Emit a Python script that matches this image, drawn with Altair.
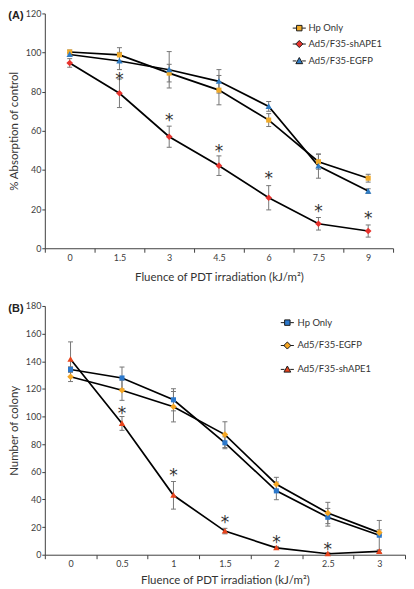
import altair as alt
import pandas as pd

FONT = "Lato"
GRAY = "#767676"
AXC = "#404040"
XTITLE = "Fluence of PDT irradiation (kJ/m²)"

# ---------------- Panel A data ----------------
a_x = ["0", "1.5", "3", "4.5", "6", "7.5", "9"]
a_names = ["Hp Only", "Ad5/F35-shAPE1", "Ad5/F35-EGFP"]
a_hp = [100.3, 98.8, 89.5, 80.8, 65.5, 44.2, 35.8]
a_hp_err = [1.0, 3.7, 4.5, 7.5, 3.3, 3.8, 2.0]
a_sh = [94.7, 79.2, 57.0, 42.2, 25.8, 12.5, 8.8]
a_sh_err = [2.2, 7.3, 5.4, 5.0, 6.2, 3.2, 3.1]
a_eg = [99.0, 95.7, 91.2, 85.3, 72.5, 42.0, 29.2]
a_eg_err = [1.0, 4.4, 9.3, 6.0, 2.5, 6.2, 1.2]
a_star = [None, 88.3, 67.5, 51.7, 38.0, 20.8, 17.5]
a_colors = ["#f0aa28", "#e8322c", "#2f7cc4"]

# ---------------- Panel B data ----------------
b_x = ["0", "0.5", "1", "1.5", "2", "2.5", "3"]
b_names = ["Hp Only", "Ad5/F35-EGFP", "Ad5/F35-shAPE1"]
b_hp = [134.0, 127.9, 112.1, 81.0, 46.2, 27.1, 14.1]
b_hp_err = [2.0, 7.9, 8.0, 4.3, 6.4, 6.4, 10.7]
b_eg = [128.8, 119.0, 107.1, 86.9, 51.0, 30.2, 16.0]
b_eg_err = [3.5, 7.3, 11.0, 9.3, 5.0, 7.7, 2.0]
b_sh = [141.4, 95.0, 43.0, 17.1, 5.0, 0.7, 2.4]
b_sh_err = [12.6, 5.0, 10.0, 2.0, 1.0, 0.8, 1.0]
b_star = [None, 105.2, 60.5, 26.2, 11.7, 7.1, None]
b_colors = ["#2b78cc", "#f5a623", "#e8441c"]

SQ = "M-1,-1H1V1H-1Z"
DI = "M0,-1.3L1.3,0L0,1.3L-1.3,0Z"
TR = "M0,-1.25L1.25,1H-1.25Z"
LN = "M-2.4,0H-1.05M1.05,0H2.4"

a_shapes = [SQ, DI, TR]
b_shapes = [SQ, DI, TR]


def panel(xs, names, vals, errs, colors, shapes, stars, ymax, ystep, ytitle,
          w, h, title, leg_x, leg_y, row_pad, lab_off, x_lab_pad, x_title_pad):
    rows = []
    for name, v, e in zip(names, vals, errs):
        for i, (x, vv, ee) in enumerate(zip(xs, v, e)):
            rows.append(dict(x=x, i=i, series=name, y=vv, lo=vv - ee, hi=vv + ee))
    df = pd.DataFrame(rows)
    sdf = pd.DataFrame([dict(x=x, y=s) for x, s in zip(xs, stars) if s is not None])

    X = alt.X("x:N", sort=xs, title=XTITLE,
              scale=alt.Scale(type="band", paddingInner=0, paddingOuter=0),
              axis=alt.Axis(tickBand="extent", labelAngle=0, tickSize=4,
                            labelPadding=x_lab_pad, titlePadding=x_title_pad))

    def Y(field):
        return alt.Y(field, title=ytitle,
                     scale=alt.Scale(domain=[0, ymax], nice=False, zero=True),
                     axis=alt.Axis(values=list(range(0, ymax + 1, ystep)),
                                   tickSize=3, labelPadding=1, titlePadding=6))

    base = alt.Chart(df)
    bars = base.mark_rule(color=GRAY, strokeWidth=1).encode(
        x=X, y=Y("lo:Q"), y2="hi:Q")
    cap_lo = base.mark_tick(color=GRAY, thickness=1, size=5, opacity=1).encode(
        x=X, y=Y("lo:Q"))
    cap_hi = base.mark_tick(color=GRAY, thickness=1, size=5, opacity=1).encode(
        x=X, y=Y("hi:Q"))
    lines = base.mark_line(color="black", strokeWidth=1.7).encode(
        x=X, y=Y("y:Q"), detail="series:N", order="i:Q")
    pts = base.mark_point(filled=True, size=26, opacity=1, strokeWidth=0).encode(
        x=X, y=Y("y:Q"),
        shape=alt.Shape("series:N", scale=alt.Scale(domain=names, range=shapes), legend=None),
        fill=alt.Fill("series:N", scale=alt.Scale(domain=names, range=colors), legend=None))
    lg = alt.Legend(orient="none", legendX=leg_x, legendY=leg_y, title=None,
                    labelFont=FONT, labelFontSize=9.5, labelColor="#333333",
                    rowPadding=row_pad, labelOffset=lab_off, symbolSize=30,
                    symbolStrokeWidth=1.0)
    leg = base.transform_filter("false").mark_point(
        filled=True, size=30, opacity=1, strokeWidth=1.0).encode(
        x=X, y=Y("y:Q"),
        shape=alt.Shape("series:N", scale=alt.Scale(domain=names, range=[LN + s for s in shapes]), legend=lg),
        fill=alt.Fill("series:N", scale=alt.Scale(domain=names, range=colors), legend=lg),
        stroke=alt.Stroke("series:N", scale=alt.Scale(domain=names, range=["#1a1a1a"] * 3), legend=lg))
    st = alt.Chart(sdf).mark_text(text="*", font="DejaVu Sans", fontSize=17,
                                  color="#333333", baseline="middle", dy=5).encode(
        x=X, y=Y("y:Q"))
    return alt.layer(bars, cap_lo, cap_hi, lines, pts, st, leg).resolve_scale(
        shape="independent", fill="independent", stroke="independent").properties(
        width=w, height=h,
        title=alt.Title(title, anchor="start", frame="bounds", offset=-12,
                        fontSize=11, font="Liberation Sans", fontWeight="bold", color="#222222"))


A = panel(a_x, a_names, [a_hp, a_sh, a_eg], [a_hp_err, a_sh_err, a_eg_err], a_colors,
          a_shapes, a_star, 120, 20, "% Absorption of control", 350, 236, "(A)",
          251, 10, 5, 4.5, 1.5, 9)
B = panel(b_x, b_names, [b_hp, b_eg, b_sh], [b_hp_err, b_eg_err, b_sh_err], b_colors,
          b_shapes, b_star, 180, 20, "Number of colony", 362, 250, "(B)",
          239, 12, 12, 5.5, 1, 6)

chart = alt.vconcat(A, B, spacing=19).properties(
    padding={"left": 0, "top": 0, "right": 0, "bottom": 0}
).configure_view(stroke=None).configure_axis(
    labelFont=FONT, labelFontSize=9, labelColor=AXC,
    titleFont=FONT, titleFontSize=11.5, titleFontWeight="normal", titleColor="#333333",
    domainColor=AXC, tickColor=AXC, grid=False, domainWidth=1
)

chart.save("out.html", embed_options={"renderer": "svg", "actions": False})
